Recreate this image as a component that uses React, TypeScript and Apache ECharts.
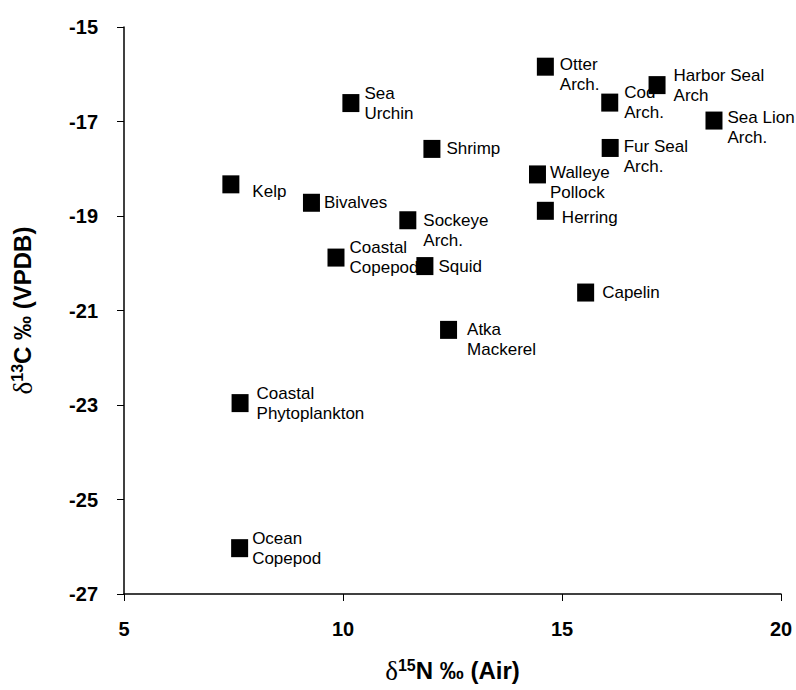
import React, { useEffect, useRef } from "react";
import * as echarts from "echarts";

const names = [
  "Sea\nUrchin", "Kelp", "Bivalves", "Otter\nArch.", "Cod\nArch.", "Harbor Seal\nArch",
  "Sea Lion\nArch.", "Shrimp", "Fur Seal\nArch.", "Walleye\nPollock", "Herring", "Sockeye\nArch.",
  "Coastal\nCopepod", "Coastal\nPhytoplankton", "Ocean\nCopepod", "Squid", "Capelin", "Atka\nMackerel",
];
const d15N = [10.18, 7.44, 9.28, 14.62, 16.09, 17.17, 18.47, 12.03, 16.1, 14.44, 14.62, 11.48, 9.84, 7.65, 7.64, 11.87, 15.54, 12.41];
const d13C = [-16.61, -18.33, -18.72, -15.84, -16.6, -16.23, -16.98, -17.58, -17.56, -18.12, -18.89, -19.09, -19.88, -22.96, -26.03, -20.06, -20.62, -21.41];

// label layout (distance from marker, vertical shift)
const labelDistance = [5, 13, 4, 6, 6, 8, 5, 6, 5, 4, 8, 7, 5, 8, 4, 5, 8, 10];
const labelDy = [0, 7, 0, 8, 0, 0, 7, 0, 9, 8, 7, 10, 0, 0, 0, 0, 0, 10];

const xTicks = { min: 5, max: 20, interval: 5 };
const yTicks = { min: -27, max: -15, interval: 2 };

const SANS = "'Liberation Sans', Arial, sans-serif";
const SERIF = "'Liberation Serif', 'Times New Roman', serif";

const titleRich = {
  d: { fontFamily: SERIF, fontSize: 27, fontWeight: "normal", color: "#000" },
  s: { fontFamily: SANS, fontSize: 16, fontWeight: "bold", color: "#000", padding: [0, 0, 10, 0] },
  b: { fontFamily: SANS, fontSize: 24, fontWeight: "bold", color: "#000" },
};

export default function App() {
  const ref = useRef<HTMLDivElement>(null);
  useEffect(() => {
    if (!ref.current) return;
    const chart = echarts.init(ref.current, null, { renderer: "svg" });
    const data = names.map((n, i) => ({
      name: n,
      value: [d15N[i], d13C[i]],
      label: { distance: labelDistance[i], offset: [0, labelDy[i]] },
    }));
    chart.setOption({
      animation: false,
      backgroundColor: "#fff",
      grid: { left: 124, right: 15, top: 27, bottom: 96, containLabel: false },
      xAxis: {
        type: "value",
        ...xTicks,
        name: "{d|δ}{s|15}{b|N ‰ (Air)}",
        nameLocation: "middle",
        nameGap: 63,
        nameTextStyle: { rich: titleRich },
        axisLine: { show: true, lineStyle: { color: "#000", width: 1.5 } },
        axisTick: { show: true, length: 7, lineStyle: { color: "#000", width: 1 } },
        splitLine: { show: false },
        axisLabel: { margin: 25, color: "#000", fontFamily: SANS, fontWeight: "bold", fontSize: 20 },
      },
      yAxis: {
        type: "value",
        ...yTicks,
        name: "{d|δ}{s|13}{b|C ‰ (VPDB)}",
        nameLocation: "middle",
        nameGap: 88,
        nameTextStyle: { rich: titleRich },
        axisLine: { show: true, lineStyle: { color: "#000", width: 1.5 } },
        axisTick: { show: true, length: 7, lineStyle: { color: "#000", width: 1 } },
        splitLine: { show: false },
        axisLabel: { margin: 26, color: "#000", fontFamily: SANS, fontWeight: "bold", fontSize: 20 },
      },
      series: [
        {
          type: "scatter",
          symbol: "rect",
          symbolSize: [17, 18],
          itemStyle: { color: "#000", opacity: 1 },
          label: {
            show: true,
            position: "right",
            formatter: "{b}",
            color: "#000",
            fontFamily: SANS,
            fontSize: 17,
            lineHeight: 20,
            align: "left",
          },
          data,
        },
      ],
    });
    return () => chart.dispose();
  }, []);
  return (
    <div
      ref={ref}
      style={{ position: "fixed", left: 0, top: 0, width: 796, height: 690, background: "#fff" }}
    />
  );
}
